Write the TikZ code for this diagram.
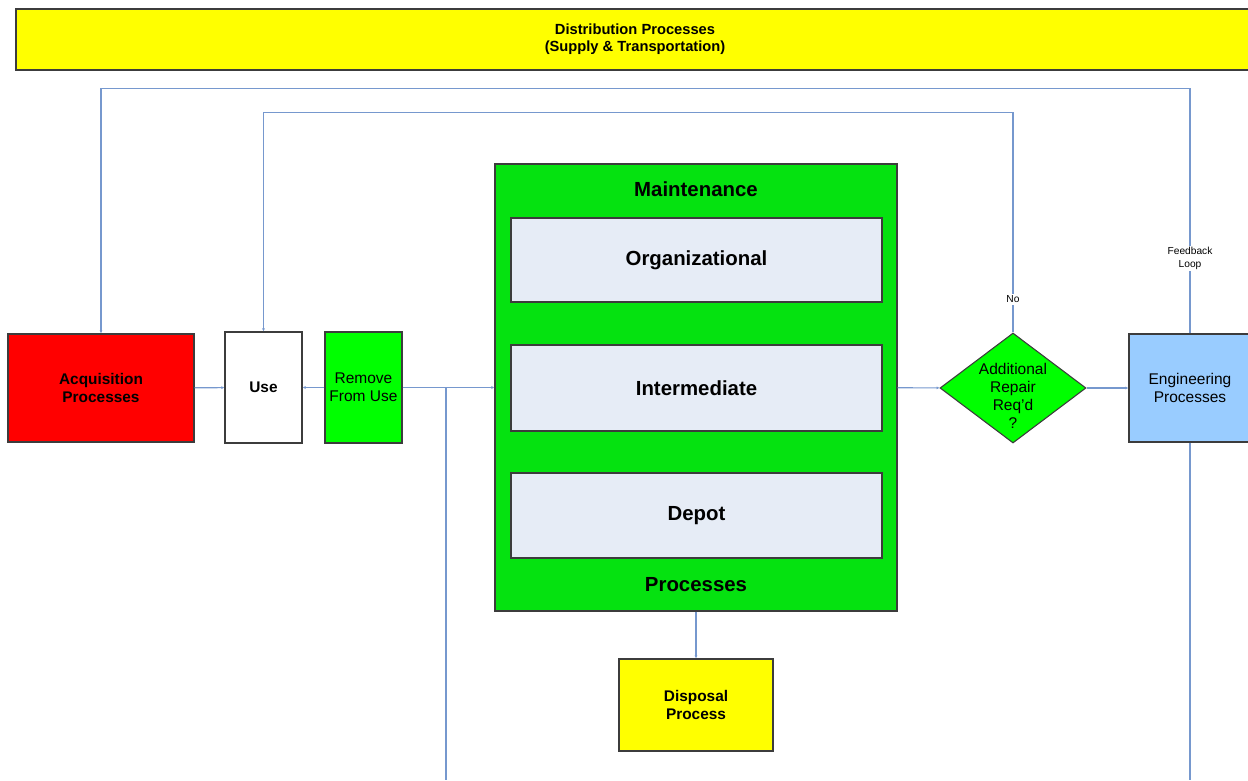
\documentclass[tikz,border=0pt]{standalone}
\usepackage{fontspec}
\setmainfont{Liberation Sans}
\definecolor{linkblue}{RGB}{118, 152, 206}
\definecolor{boxedge}{RGB}{60, 60, 60}
\definecolor{distyellow}{RGB}{255, 255, 0}
\definecolor{acqred}{RGB}{255, 0, 0}
\definecolor{rfugreen}{RGB}{0, 255, 0}
\definecolor{maintgreen}{RGB}{5, 226, 16}
\definecolor{levelgray}{RGB}{230, 236, 246}
\definecolor{engblue}{RGB}{153, 204, 255}
\usetikzlibrary{shapes.geometric, arrows.meta, positioning}

\tikzset{
  procbox/.style={draw=boxedge, line width=1.1pt, inner sep=0pt, align=center},
  bodyfont/.style={font=\fontsize{15.5}{18}\selectfont},
  boldfont/.style={font=\bfseries\fontsize{15.4}{18}\selectfont},
  bigfont/.style={font=\bfseries\fontsize{20.4}{24}\selectfont},
  notefont/.style={font=\fontsize{10.2}{13}\selectfont},
  link/.style={draw=linkblue, line width=1.2pt},
  arr/.style={link, -{Latex[length=3pt, width=3pt]}},
  tag/.style={notefont, fill=white, inner sep=1.5pt, align=center},
}

\begin{document}
\begin{tikzpicture}[x=1pt, y=-1pt]
  \useasboundingbox (0,0) rectangle (1248,780);

  % top band
  \node[procbox, fill=distyellow, minimum width=1238, minimum height=61,
        font=\bfseries\fontsize{14.7}{17}\selectfont] (dist) at (635,39.5)
        {Distribution Processes\\(Supply \& Transportation)};

  % left chain
  \node[procbox, fill=acqred, minimum width=186, minimum height=108, boldfont] (acq) at (101,388) {Acquisition\\Processes};
  \node[procbox, fill=white, minimum width=77, minimum height=111, boldfont] (use) at (263.5,387.5) {Use};
  \node[procbox, fill=rfugreen, minimum width=77, minimum height=111, bodyfont] (rfu) at (363.5,387.5) {Remove\\From Use};

  % maintenance block
  \node[procbox, fill=maintgreen, minimum width=402, minimum height=447] (maint) at (696,387.5) {};
  \node[bigfont] (mtitle) at (696,189) {Maintenance};
  \node[bigfont] (mfoot) at (696,585) {Processes};
  \node[procbox, fill=levelgray, minimum width=371, minimum height=84, bigfont] (org) at (696.5,260) {Organizational};
  \node[procbox, fill=levelgray, minimum width=371, minimum height=86, bigfont] (inter) at (696.5,388) {Intermediate};
  \node[procbox, fill=levelgray, minimum width=371, minimum height=85, bigfont] (depot) at (696.5,515.5) {Depot};

  % decision and engineering
  \node[draw=boxedge, line width=1.1pt, fill=rfugreen, diamond, inner sep=0pt,
        minimum width=146, minimum height=110] (chk) at (1013,388) {};
  \node[bodyfont, align=center] (chktxt) at (1013,396) {Additional\\Repair\\Req'd\\?};
  \node[procbox, fill=engblue, minimum width=122, minimum height=108, bodyfont] (eng) at (1190,388) {Engineering\\Processes};

  % disposal
  \node[procbox, fill=distyellow, minimum width=154, minimum height=92, boldfont] (disp) at (696,705) {Disposal\\Process};

  % free ends
  \coordinate (split) at (446,388);
  \coordinate (splitend) at (446,780);
  \coordinate (engend) at (1190,780);

  % connectors
  \draw[arr] (acq) -- (use);
  \draw[arr] (rfu) -- (use);
  \draw[arr] (rfu) -- (maint);
  \draw[link] (split) -- (splitend);
  \draw[arr] (maint) -- (chk);
  \draw[arr] (chk) -- (eng);
  \draw[arr] (maint.south) -- (disp.north);
  \draw[arr] (chk.north) -- node[tag, pos=0.15] {No} ++(0,-220) -| (use.north);
  \draw[arr] (eng.north) -- node[tag, pos=0.306] {Feedback\\Loop} ++(0,-245) -| (acq.north);
  \draw[link] (eng.south) -- (engend);
\end{tikzpicture}
\end{document}
